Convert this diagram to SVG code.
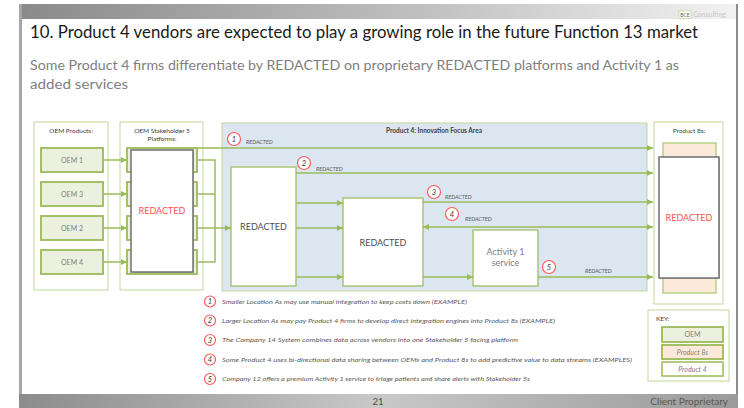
<svg xmlns="http://www.w3.org/2000/svg" width="744" height="408" viewBox="0 0 744 408">
<style>
.t{font-family:Lato,"Liberation Sans",sans-serif}
.hdr{font-family:Lato,"Liberation Sans",sans-serif;font-size:6.5px;fill:#404040;text-anchor:middle}
.cont{fill:#fff;stroke:#c3d69b;stroke-width:1}
.oem{fill:#ebf1de;stroke:#9bbb59;stroke-width:1.8}
.oemt{font-family:Lato,"Liberation Sans",sans-serif;font-size:7px;fill:#7f7f7f;text-anchor:middle}
.wbox{fill:#fff;stroke:#a9c574;stroke-width:1.5}
.dbox{fill:#fff;stroke:#6f6f6f;stroke-width:1.5}
.peach{fill:#fde9d9;stroke:#b5cf86;stroke-width:1.5}
.big{font-family:Lato,"Liberation Sans",sans-serif;font-size:9px;fill:#4d4d4d;text-anchor:middle}
.act{font-family:Lato,"Liberation Sans",sans-serif;font-size:9px;fill:#808080;text-anchor:middle}
.red{font-family:Lato,"Liberation Sans",sans-serif;font-size:9px;fill:#ff4f4f;text-anchor:middle}
.ln{stroke:#9bbb59;stroke-width:1.5;fill:none}
.lbl{font-family:Lato,"Liberation Sans",sans-serif;font-size:5.5px;font-style:italic;fill:#595959}
.cir{fill:#fff;stroke:#ff5a5a;stroke-width:1.2}
.num{font-family:Lato,"Liberation Sans",sans-serif;font-size:7.5px;font-style:italic;fill:#404040;text-anchor:middle}
.leg{font-family:Lato,"Liberation Sans",sans-serif;font-size:6px;font-style:italic;fill:#595959}
</style>
<defs>
<linearGradient id="topg" x1="0" y1="0" x2="1" y2="0">
<stop offset="0" stop-color="#8a8a8a"/>
<stop offset="0.6" stop-color="#c4c4c4"/>
<stop offset="1" stop-color="#f2f2f2"/>
</linearGradient>
<linearGradient id="botg" x1="0" y1="0" x2="1" y2="0">
<stop offset="0" stop-color="#8c8c8c"/>
<stop offset="0.5" stop-color="#c8c8c8"/>
<stop offset="1" stop-color="#9a9a9a"/>
</linearGradient>
<marker id="arr" viewBox="0 0 6 6" refX="6" refY="3" markerWidth="6" markerHeight="6" markerUnits="userSpaceOnUse" orient="auto-start-reverse">
<path d="M0,0 L6,3 L0,6 z" fill="#9bbb59"/>
</marker>
</defs>

<!-- slide frame -->
<rect x="0" y="0" width="744" height="408" fill="#fff"/>
<rect x="20" y="4" width="717" height="15" fill="url(#topg)"/>
<rect x="19" y="4" width="3" height="391" fill="#a6a6a6"/>
<rect x="736" y="4" width="2" height="391" fill="#8c8c8c"/>
<rect x="19" y="394" width="719" height="14" fill="url(#botg)"/>
<rect x="679" y="11" width="12" height="7.5" fill="#fff" stroke="#c3d69b" stroke-width="0.8"/>
<text class="t" x="685" y="17" font-size="5" fill="#595959" text-anchor="middle">BCE</text>
<text class="t" x="693" y="17" font-size="7" fill="#c8c8c8">Consulting</text>

<text class="t" x="30" y="38" font-size="16.5" fill="#1a1a1a" textLength="668" lengthAdjust="spacingAndGlyphs">10. Product 4 vendors are expected to play a growing role in the future Function 13 market</text>
<text class="t" x="30" y="70" font-size="13.5" fill="#808080" textLength="649" lengthAdjust="spacingAndGlyphs">Some Product 4 firms differentiate by REDACTED on proprietary REDACTED platforms and Activity 1 as</text>
<text class="t" x="30" y="89" font-size="13.5" fill="#808080" textLength="98" lengthAdjust="spacingAndGlyphs">added services</text>

<text class="t" x="378" y="405" font-size="9.5" fill="#4d4d4d" text-anchor="middle">21</text>
<text class="t" x="728" y="405" font-size="10" fill="#595959" text-anchor="end">Client Proprietary</text>

<!-- containers -->
<g id="oem-products">
<rect class="cont" x="34" y="122" width="74" height="168"/>
<text class="hdr" x="71" y="133">OEM Products:</text>
</g>
<g id="oem-platforms">
<rect class="cont" x="120" y="122" width="83" height="168"/>
<text class="hdr" x="162" y="133">OEM Stakeholder 5</text>
<text class="hdr" x="162" y="141">Platforms:</text>
</g>
<g id="innovation-area">
<rect x="222" y="123" width="425" height="168" fill="#dce6f1" stroke="#c3d69b" stroke-width="1"/>
<text class="hdr" x="434" y="133" font-weight="bold">Product 4: Innovation Focus Area</text>
</g>
<g id="product8s">
<rect class="cont" x="654" y="122" width="69" height="182"/>
<text class="hdr" x="689" y="133">Product 8s:</text>
<rect class="peach" x="663" y="143" width="53" height="150"/>
<rect x="660" y="158" width="60" height="121" fill="#bfbfbf"/>
<rect class="dbox" x="659" y="157" width="60" height="121"/>
<text class="red" x="689" y="221">REDACTED</text>
</g>

<!-- OEM boxes -->
<g id="oem1"><rect class="oem" x="41" y="148" width="62" height="24"/><text class="oemt" x="72" y="162.5">OEM 1</text></g>
<g id="oem3"><rect class="oem" x="41" y="182" width="62" height="24"/><text class="oemt" x="72" y="196.5">OEM 3</text></g>
<g id="oem2"><rect class="oem" x="41" y="216" width="62" height="24"/><text class="oemt" x="72" y="230.5">OEM 2</text></g>
<g id="oem4"><rect class="oem" x="41" y="250" width="62" height="24"/><text class="oemt" x="72" y="264.5">OEM 4</text></g>

<!-- platform slots -->
<g id="platform-slots">
<rect class="oem" x="127" y="148" width="70" height="24"/>
<rect class="oem" x="127" y="182" width="70" height="24"/>
<rect class="oem" x="127" y="216" width="70" height="24"/>
<rect class="oem" x="127" y="250" width="70" height="24"/>
</g>
<g id="platform-redacted">
<rect x="132" y="151" width="62" height="122" fill="#bfbfbf"/>
<rect class="dbox" x="131" y="150" width="62" height="122"/>
<text class="red" x="162" y="214">REDACTED</text>
</g>

<g id="redacted1"><rect class="wbox" x="231" y="167" width="65" height="119"/><text class="big" x="263.5" y="230">REDACTED</text></g>
<g id="redacted2"><rect class="wbox" x="343" y="198" width="80" height="88"/><text class="big" x="383" y="246">REDACTED</text></g>
<g id="activity1"><rect class="wbox" x="473" y="230" width="65" height="56"/><text class="act" x="505.5" y="255">Activity 1</text><text class="act" x="505.5" y="266">service</text></g>

<!-- connectors -->
<g id="connectors">
<line class="ln" x1="103" y1="160" x2="127" y2="160" marker-end="url(#arr)"/>
<line class="ln" x1="103" y1="194" x2="127" y2="194" marker-end="url(#arr)"/>
<line class="ln" x1="103" y1="228" x2="127" y2="228" marker-end="url(#arr)"/>
<line class="ln" x1="103" y1="262" x2="127" y2="262" marker-end="url(#arr)"/>
<path class="ln" d="M197,160 H215 M197,194 H215 M197,228 H215 M197,262 H215 M215,159.25 V262.75"/>
<line class="ln" x1="215" y1="228" x2="231" y2="228" marker-end="url(#arr)"/>
<line class="ln" x1="197" y1="148" x2="653" y2="148" marker-end="url(#arr)"/>
<line class="ln" x1="296" y1="173" x2="653" y2="173" marker-end="url(#arr)"/>
<line class="ln" x1="296" y1="203" x2="343" y2="203" marker-end="url(#arr)"/>
<line class="ln" x1="296" y1="228" x2="343" y2="228" marker-end="url(#arr)"/>
<line class="ln" x1="296" y1="277" x2="343" y2="277" marker-end="url(#arr)"/>
<line class="ln" x1="423" y1="202" x2="653" y2="202" marker-end="url(#arr)"/>
<line class="ln" x1="423" y1="227" x2="653" y2="227" marker-start="url(#arr)" marker-end="url(#arr)"/>
<line class="ln" x1="423" y1="277" x2="473" y2="277" marker-end="url(#arr)"/>
<line class="ln" x1="538" y1="277" x2="653" y2="277" marker-end="url(#arr)"/>
</g>

<!-- connector labels -->
<g id="labels">
<circle class="cir" cx="234" cy="139" r="6.5"/><text class="num" x="234" y="141.7">1</text>
<text class="lbl" x="246" y="144">REDACTED</text>
<circle class="cir" cx="304" cy="163" r="6.5"/><text class="num" x="304" y="165.7">2</text>
<text class="lbl" x="316" y="171">REDACTED</text>
<circle class="cir" cx="434" cy="192" r="6.5"/><text class="num" x="434" y="194.7">3</text>
<text class="lbl" x="445" y="199">REDACTED</text>
<circle class="cir" cx="452" cy="214" r="6.5"/><text class="num" x="452" y="216.7">4</text>
<text class="lbl" x="465" y="221">REDACTED</text>
<circle class="cir" cx="549" cy="267" r="6.5"/><text class="num" x="549" y="269.7">5</text>
<text class="lbl" x="585" y="273">REDACTED</text>
</g>

<!-- legend -->
<g id="legend">
<circle class="cir" cx="210" cy="301.5" r="5.5"/><text class="num" x="210" y="304" font-size="6.5">1</text>
<text class="leg" x="222" y="303.5" textLength="245" lengthAdjust="spacingAndGlyphs">Smaller Location As may use manual integration to keep costs down (EXAMPLE)</text>
<circle class="cir" cx="210" cy="320.5" r="5.5"/><text class="num" x="210" y="323" font-size="6.5">2</text>
<text class="leg" x="222" y="322.5" textLength="333" lengthAdjust="spacingAndGlyphs">Larger Location As may pay Product 4 firms to develop direct integration engines into Product 8s (EXAMPLE)</text>
<circle class="cir" cx="210" cy="340" r="5.5"/><text class="num" x="210" y="342.5" font-size="6.5">3</text>
<text class="leg" x="222" y="342" textLength="296" lengthAdjust="spacingAndGlyphs">The Company 14 System combines data across vendors into one Stakeholder 5 facing platform</text>
<circle class="cir" cx="210" cy="359.5" r="5.5"/><text class="num" x="210" y="362" font-size="6.5">4</text>
<text class="leg" x="222" y="361.5" textLength="410" lengthAdjust="spacingAndGlyphs">Some Product 4 uses bi-directional data sharing between OEMs and Product 8s to add predictive value to data streams (EXAMPLES)</text>
<circle class="cir" cx="210" cy="379" r="5.5"/><text class="num" x="210" y="381.5" font-size="6.5">5</text>
<text class="leg" x="222" y="381" textLength="308" lengthAdjust="spacingAndGlyphs">Company 12 offers a premium Activity 1 service to triage patients and share alerts with Stakeholder 5s</text>
</g>

<!-- key -->
<g id="key">
<rect class="cont" x="648" y="310" width="81" height="71"/>
<text class="t" x="656" y="321" font-size="6.5" fill="#404040">KEY:</text>
<rect class="oem" x="662" y="327" width="61" height="15"/>
<text class="oemt" x="692.5" y="337" font-size="6">OEM</text>
<rect x="662" y="345" width="61" height="14" fill="#fde9d9" stroke="#9bbb59" stroke-width="1.8"/>
<text class="oemt" x="692.5" y="354.5" font-size="6" font-style="italic">Product 8s</text>
<rect x="662" y="362" width="61" height="14" fill="#fff" stroke="#9bbb59" stroke-width="1.5"/>
<text class="oemt" x="692.5" y="371.5" font-size="6" font-style="italic">Product 4</text>
</g>
</svg>
